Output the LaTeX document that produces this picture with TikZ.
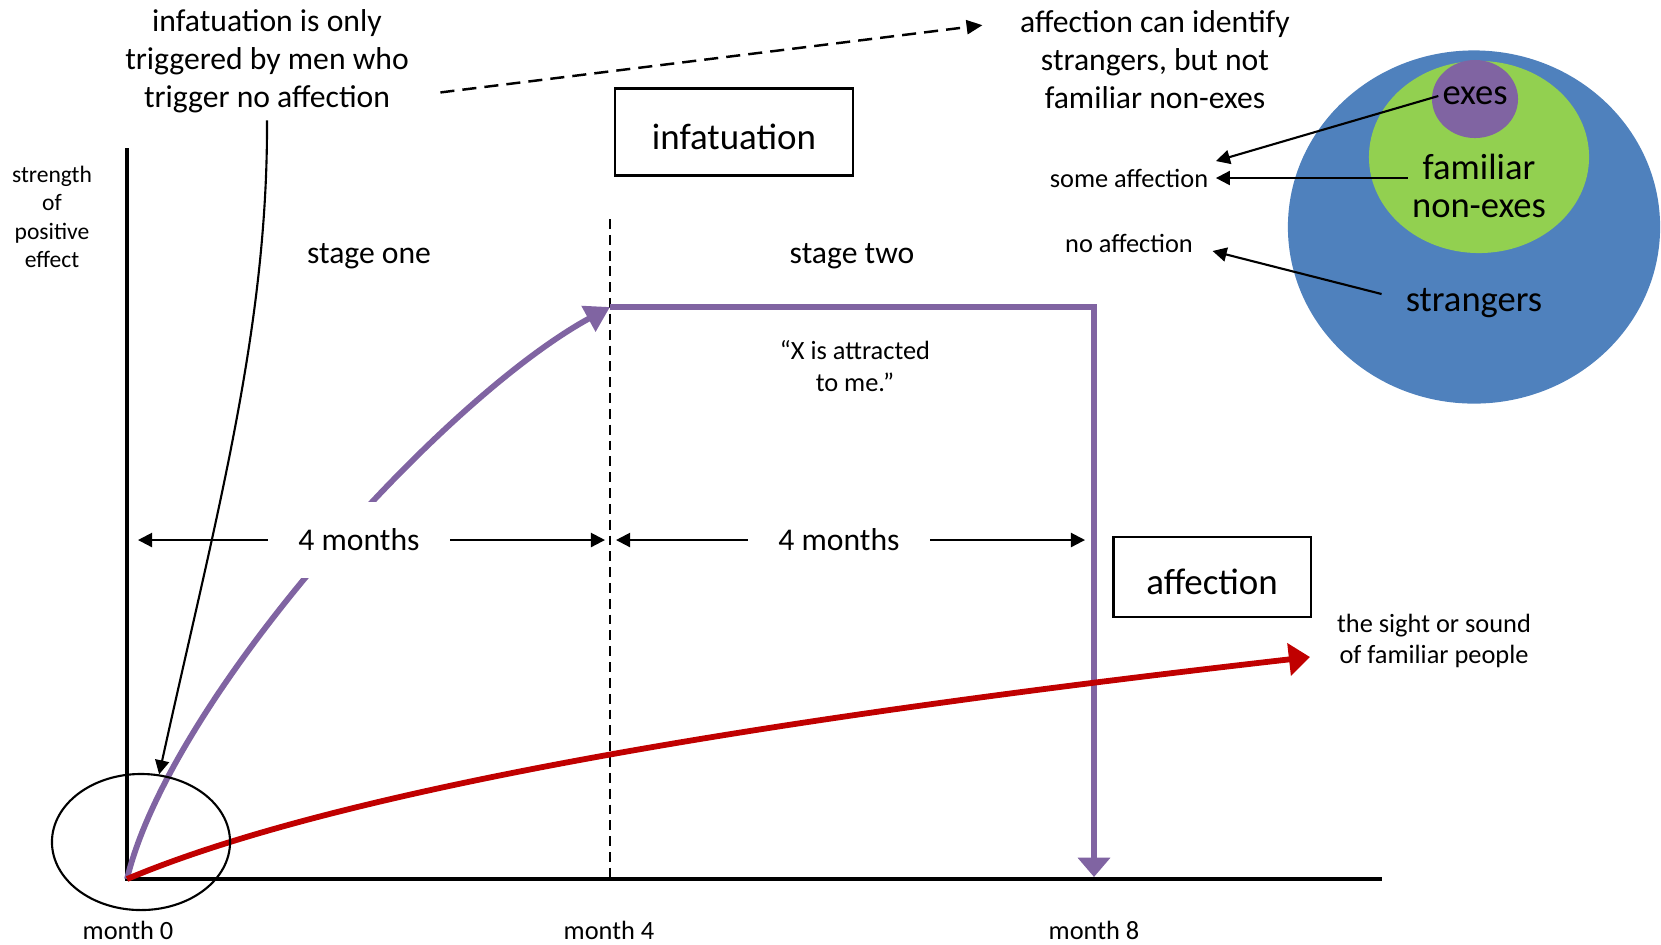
\documentclass[tikz,border=0pt]{standalone}
\usepackage{fontspec}
\setmainfont{Carlito}
\usepackage{tikz}
\usetikzlibrary{arrows.meta,positioning,shapes.geometric,calc}
\definecolor{infcol}{HTML}{8064A2}
\definecolor{affcol}{HTML}{C00000}
\definecolor{setblue}{HTML}{4F81BD}
\definecolor{setgreen}{HTML}{92D050}
\tikzset{
  lg/note/.style={align=center, inner sep=2pt, font=\fontsize{9}{10.8}\selectfont},
  lg/small/.style={align=center, inner sep=2pt, font=\fontsize{7.5}{9}\selectfont},
  lg/tiny/.style={align=center, inner sep=1pt, font=\fontsize{6.7}{8.1}\selectfont},
  lg/phase/.style={draw, line width=0.6pt, align=center, text height=10pt, text depth=0pt, font=\fontsize{10.5}{12.6}\selectfont},
  lg/set/.style={ellipse, inner sep=0pt},
  lg/setlabel/.style={align=center, inner sep=1pt, font=\fontsize{10.4}{10.6}\selectfont},
  lg/span/.style={fill=white, inner xsep=8.5pt, minimum height=7.6mm, font=\fontsize{9}{10.8}\selectfont},
  lg/axis/.style={line width=1pt},
  lg/arrow/.style={line width=0.6pt, -{Triangle[length=4pt,width=4pt]}},
  lg/guide/.style={line width=0.6pt, dash pattern=on 2.8pt off 1.7pt},
  lg/link/.style={line width=0.7pt, dash pattern=on 4pt off 2.3pt, -{Triangle[length=4.5pt,width=4pt]}},
  lg/infat/.style={infcol, line width=1.65pt},
  lg/affec/.style={affcol, line width=1.65pt, -{Triangle[length=6pt,width=9pt]}}
}

\begin{document}
\begin{tikzpicture}[x=0.01cm, y=-0.01cm]
  \useasboundingbox (0,0) rectangle (1661,944);

  % sets of men
  \node[lg/set, fill=setblue, minimum width=3.72cm, minimum height=3.53cm] (strangerset) at (1474,227) {};
  \node[lg/set, fill=setgreen, minimum width=2.20cm, minimum height=1.92cm] (familiarset) at (1479,157) {};
  \node[lg/set, fill=infcol, minimum width=0.86cm, minimum height=0.78cm] (exset) at (1475,99) {};
  \node[lg/setlabel] (exes) at (1475,96) {exes};
  \node[lg/setlabel] (familiar) at (1479,186) {familiar\\non-exes};
  \node[lg/setlabel] (strangers) at (1474,303) {strangers};

  \node[lg/small] (someaff) at (1129,178) {some affection};
  \node[lg/small] (noaff) at (1129,243) {no affection};
  \draw[lg/arrow] (exes.west) -- (someaff.north east);
  \draw[lg/arrow] (familiar.west |- someaff.east) -- (someaff.east);
  \draw[lg/arrow] ([shift={(-20,-9)}]strangers.west) -- ([shift={(12,8)}]noaff.east);

  % notes at the top
  \node[lg/note] (infnote) at (267,61) {infatuation is only\\triggered by men who\\trigger no affection};
  \node[lg/note] (affnote) at (1155,60) {affection can identify\\strangers, but not\\familiar non-exes};
  \draw[lg/link] ([shift={(24,-28)}]infnote.south east) -- ([shift={(-30,22)}]affnote.north west);

  % axes
  \coordinate (ytop) at (127,148);
  \coordinate (o) at (127,879);
  \coordinate (xend) at (1382,879);
  \draw[lg/axis] (ytop) -- (o) -- (xend);
  \node[lg/tiny] (ylabel) at (52,217) {strength\\of\\positive\\effect};
  \node[lg/small] (m0) at (128,930) {month 0};
  \node[lg/small] (m4) at (609,930) {month 4};
  \node[lg/small] (m8) at (1094,930) {month 8};

  \coordinate (m4top) at (610,219);
  \draw[lg/guide] (m4top) -- (m4top |- o);

  \node[lg/phase, minimum width=2.38cm, minimum height=0.87cm] (infbox) at (734,132) {infatuation};
  \node[lg/phase, minimum width=1.97cm, minimum height=0.80cm] (affbox) at (1212,577) {affection};
  \node[lg/note] (stage1) at (369,256) {stage one};
  \node[lg/note] (stage2) at (852,256) {stage two};
  \node[lg/small] (quote) at (855,366) {“X is attracted\\to me.”};

  % infatuation
  \coordinate (peak) at (610,307);
  \coordinate (drop) at (1094,307);
  \coordinate (end8) at (1094,877);
  \draw[lg/infat, -{Triangle[length=7pt,width=8pt]}] (o) .. controls (170,700) and (440,400) .. (peak);
  \draw[lg/infat, -{Triangle[length=5.5pt,width=9pt]}] (peak) -- (drop) -- (end8);

  % affection
  \coordinate (redend) at (1310,657);
  \draw[lg/affec] (o) .. controls (350,785) and (800,715) .. (redend);
  \node[lg/small] (sight) at (1434,641) {the sight or sound\\of familiar people};

  % durations
  \node[lg/span] (span1) at (359,540) {4 months};
  \node[lg/span] (span2) at (839,540) {4 months};
  \coordinate (s1l) at (138,540);
  \coordinate (s1r) at (605,540);
  \coordinate (s2l) at (616,540);
  \coordinate (s2r) at (1085,540);
  \draw[lg/arrow] (span1.west) -- (s1l);
  \draw[lg/arrow] (span1.east) -- (s1r);
  \draw[lg/arrow] (span2.west) -- (s2l);
  \draw[lg/arrow] (span2.east) -- (s2r);

  \node[draw, ellipse, line width=0.6pt, minimum width=1.78cm, minimum height=1.36cm] (zero) at (141,842) {};
  \draw[lg/arrow] (infnote.south) .. controls (268,330) and (215,520) .. (zero.75);
\end{tikzpicture}
\end{document}
